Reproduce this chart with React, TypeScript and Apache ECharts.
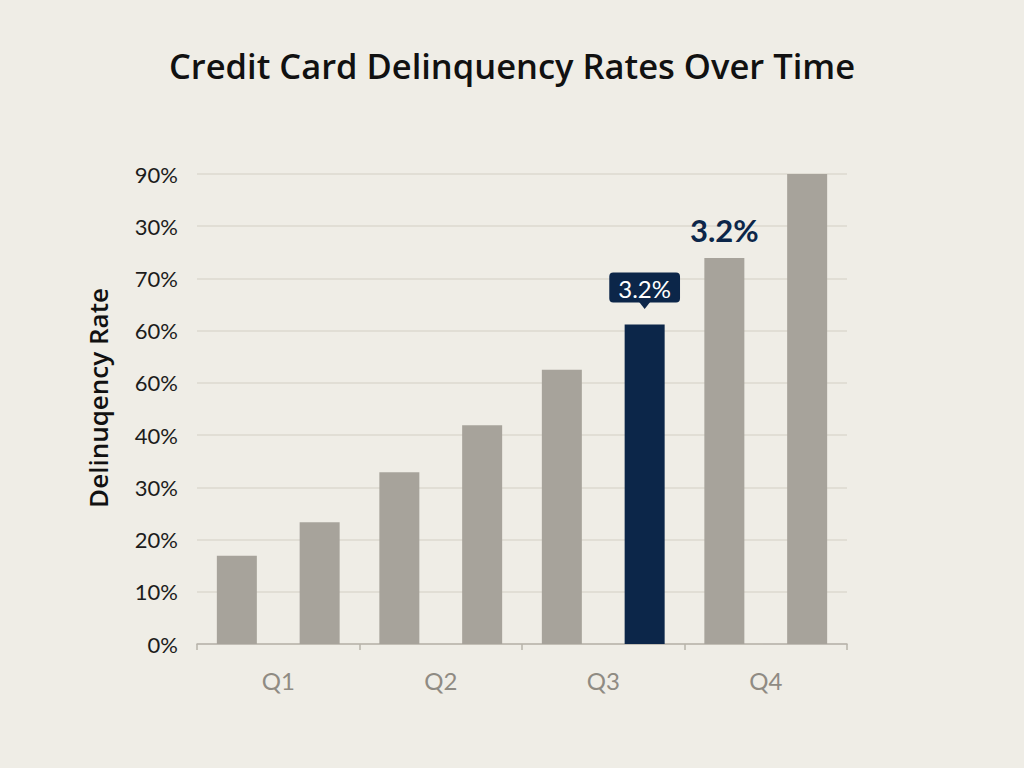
import { useEffect, useRef } from "react";
import * as echarts from "echarts";

// values (percent, on the 0–90 scale)
const quarters = ["Q1", "Q2", "Q3", "Q4"];
const firstBars = [16.9, 32.9, 52.5, 73.9];
const secondBars = [23.3, 41.9, 61.2, 90.3];
// the reference labels its gridlines like this, repeats and all
const yTickLabels = ["0%", "10%", "20%", "30%", "40%", "60%", "60%", "70%", "30%", "90%"];
const boxedLabel = "3.2%";
const plainLabel = "3.2%";

const GRAY = "#a7a39b";
const NAVY = "#0c2649";

export default function App() {
  const chartRef = useRef<HTMLDivElement>(null);

  useEffect(() => {
    if (!chartRef.current) return;
    document.body.style.margin = "0";
    const chart = echarts.init(chartRef.current, undefined, { renderer: "svg" });

    const second = secondBars.map((v, i) =>
      i === 2
        ? {
            value: v,
            itemStyle: { color: NAVY },
            label: {
              show: true,
              position: "top",
              distance: 22,
              formatter: boxedLabel,
              color: "#ffffff",
              fontSize: 24,
              fontFamily: "Lato, sans-serif",
              backgroundColor: NAVY,
              borderRadius: 4,
              padding: [4, 9, 2, 9],
            },
          }
        : v
    );

    const first = firstBars.map((v, i) =>
      i === 3
        ? {
            value: v,
            label: {
              show: true,
              position: "top",
              distance: 13,
              formatter: plainLabel,
              color: NAVY,
              fontSize: 31,
              fontWeight: "bold",
              fontFamily: "Lato, sans-serif",
            },
          }
        : v
    );

    chart.setOption({
      animation: false,
      backgroundColor: "#efede6",
      title: {
        text: "Credit Card Delinquency Rates Over Time",
        left: "center",
        top: 43,
        textStyle: {
          fontFamily: "'Open Sans', sans-serif",
          fontSize: 34.5,
          fontWeight: 600,
          color: "#111111",
        },
      },
      grid: { left: 197, right: 177, top: 174, bottom: 124 },
      xAxis: {
        type: "category",
        data: quarters,
        axisLine: { lineStyle: { color: "#b7b3aa", width: 1.5 } },
        axisTick: { show: true, length: 6, lineStyle: { color: "#b7b3aa", width: 1.5 } },
        axisLabel: {
          color: "#8f8b83",
          fontSize: 24,
          fontFamily: "Lato, sans-serif",
          margin: 24,
        },
      },
      yAxis: {
        type: "value",
        min: 0,
        max: 90,
        interval: 10,
        name: "Delinuqency Rate",
        nameLocation: "middle",
        nameGap: 86,
        nameTextStyle: {
          fontFamily: "'Open Sans', sans-serif",
          fontSize: 26,
          fontWeight: 600,
          color: "#111111",
          padding: [0, 0, 0, 22],
        },
        axisLine: { show: false },
        axisTick: { show: false },
        axisLabel: {
          formatter: (v: number) => yTickLabels[Math.round(v / 10)] ?? "",
          color: "#1c1c1c",
          fontSize: 22,
          fontFamily: "Lato, sans-serif",
          margin: 19,
        },
        splitLine: { lineStyle: { color: "#dcd8cf", width: 1.5 } },
      },
      series: [
        {
          type: "bar",
          data: first,
          barWidth: 40,
          barGap: "107%",
          itemStyle: { color: GRAY },
        },
        {
          type: "bar",
          data: second,
          barWidth: 40,
          barGap: "107%",
          itemStyle: { color: GRAY },
          markPoint: {
            silent: true,
            symbol: "triangle",
            symbolRotate: 180,
            symbolSize: [11, 7],
            symbolOffset: [0, -19],
            itemStyle: { color: NAVY },
            label: { show: false },
            data: [{ coord: [quarters[2], secondBars[2]] }],
          },
        },
      ],
    });

    return () => chart.dispose();
  }, []);

  return (
    <div
      ref={chartRef}
      style={{ position: "fixed", left: 0, top: 0, width: 1024, height: 768 }}
    />
  );
}
